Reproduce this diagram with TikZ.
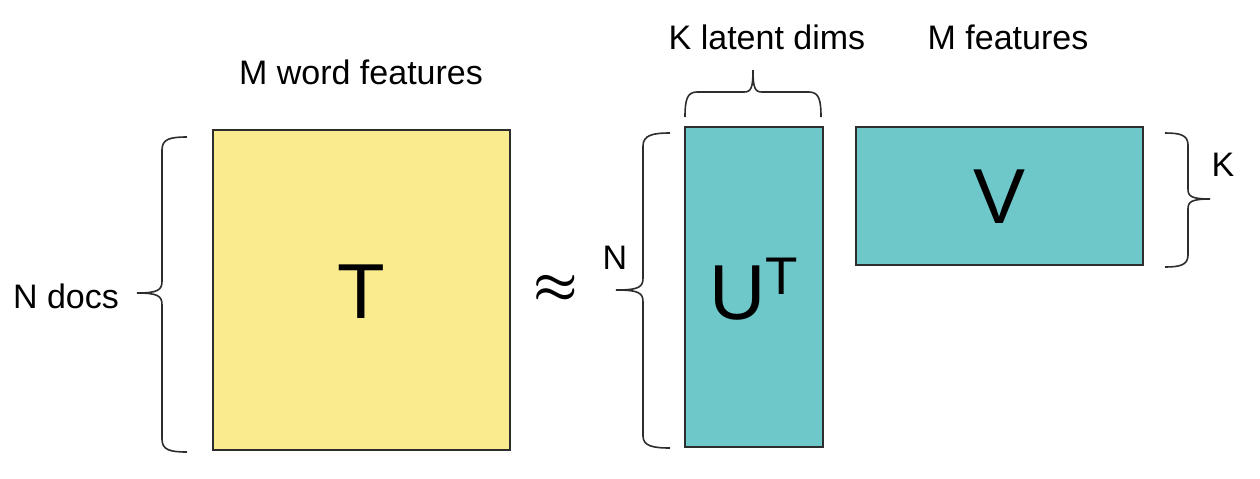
\documentclass[tikz,border=0pt]{standalone}
\usepackage{fontspec}
\setmainfont{Liberation Sans}
\definecolor{matyellow}{RGB}{250,236,142}
\definecolor{matteal}{RGB}{110,199,200}
\definecolor{edgegray}{RGB}{45,45,45}
\newcommand{\boldapprox}{\mbox{\boldmath$\approx$}}
\begin{document}
\begin{tikzpicture}[x=0.5pt,y=-0.5pt,
  matrixbox/.style={draw=edgegray,line width=1pt,inner sep=0pt,outer sep=0pt},
  lbl/.style={font=\fontsize{17}{20}\selectfont,inner sep=0pt},
  big/.style={font=\fontsize{39}{40}\selectfont,inner sep=0pt},
  bracepath/.style={draw=edgegray,line width=0.8pt}]
\useasboundingbox (0,0) rectangle (1260,478);
% matrices
\node[matrixbox,fill=matyellow,minimum width=148.5pt,minimum height=160pt,anchor=north west] (T) at (213,130) {};
\node[matrixbox,fill=matteal,minimum width=69pt,minimum height=160pt,anchor=north west] (U) at (685,127) {};
\node[matrixbox,fill=matteal,minimum width=143.5pt,minimum height=69pt,anchor=north west] (V) at (856,127) {};
% letters
\node[big] (Tl) at (361,292) {T};
\node[big] (Ul) at (754,289) {U\raisebox{12.5pt}{\fontsize{26.5}{27}\selectfont T}};
\node[big] (Vl) at (1000,197) {V};
\node[font=\fontsize{29}{29}\selectfont,inner sep=0pt] (approx) at (556,289) {\boldapprox};
% labels
\node[lbl] (mwf) at (361,72) {M word features};
\node[lbl] (ndocs) at (66,296) {N docs};
\node[lbl] (kld) at (767,37) {K latent dims};
\node[lbl] (mf) at (1008,37) {M features};
\node[lbl] (n) at (615,258) {N};
\node[lbl] (k) at (1223,165) {K};
% left brace (tip left)
\draw[bracepath] (187,137) .. controls (170,137) and (162,139) .. (162,150)
  -- (162,281) .. controls (162,290) and (158,293) .. (137,293)
  .. controls (158,293) and (162,296) .. (162,305)
  -- (162,439) .. controls (162,450) and (170,452) .. (187,452);
% N brace (tip left)
\draw[bracepath] (670,133) .. controls (653,133) and (643,135) .. (643,146)
  -- (643,278) .. controls (643,287) and (639,290) .. (616,290)
  .. controls (639,290) and (643,293) .. (643,302)
  -- (643,436) .. controls (643,446) and (653,448) .. (670,448);
% K latent dims brace (tip up)
\draw[bracepath] (685,117) .. controls (685,100) and (687,92) .. (697,92)
  -- (744,92) .. controls (751,92) and (753,88) .. (753,70)
  .. controls (753,88) and (755,92) .. (762,92)
  -- (809,92) .. controls (819,92) and (821,100) .. (821,117);
% K brace (tip right)
\draw[bracepath] (1165,133) .. controls (1180,133) and (1188,135) .. (1188,145)
  -- (1188,189) .. controls (1188,196) and (1191,199) .. (1210,199)
  .. controls (1191,199) and (1188,202) .. (1188,209)
  -- (1188,255) .. controls (1188,265) and (1180,267) .. (1165,267);
\end{tikzpicture}
\end{document}
